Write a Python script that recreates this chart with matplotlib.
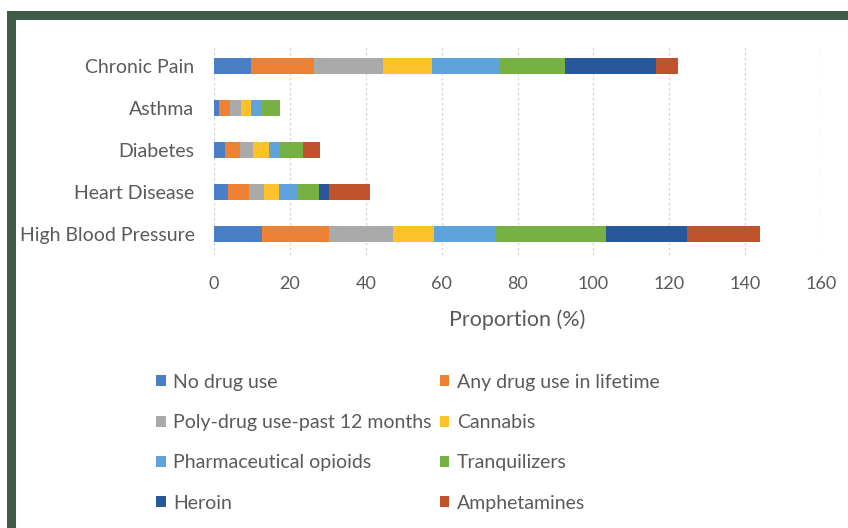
import matplotlib
matplotlib.use("Agg")
import matplotlib.pyplot as plt
from matplotlib.patches import Rectangle, Patch
import numpy as np

categories = ["Chronic Pain", "Asthma", "Diabetes", "Heart Disease", "High Blood Pressure"]
series_names = ["No drug use", "Any drug use in lifetime", "Poly-drug use-past 12 months",
                "Cannabis", "Pharmaceutical opioids", "Tranquilizers", "Heroin", "Amphetamines"]
no_drug_use   = [9.7, 1.4, 2.9, 3.6, 12.6]
any_drug_use  = [16.7, 2.8, 4.0, 5.7, 17.8]
poly_drug_use = [18.2, 2.8, 3.5, 3.9, 16.8]
cannabis      = [12.8, 2.7, 4.1, 4.0, 10.9]
pharm_opioids = [17.9, 2.7, 2.9, 4.9, 16.3]
tranquilizers = [17.3, 5.0, 6.0, 5.6, 29.0]
heroin        = [23.8, 0.0, 0.0, 2.7, 21.2]
amphetamines  = [5.8, 0.0, 4.6, 10.8, 19.4]
xticks = [0, 20, 40, 60, 80, 100, 120, 140, 160]

series = [no_drug_use, any_drug_use, poly_drug_use, cannabis,
          pharm_opioids, tranquilizers, heroin, amphetamines]
colors = ["#4a7fc6", "#ee8234", "#aaaaaa", "#fdc12a", "#5fa3dc", "#78b143", "#28589a", "#c0532b"]

plt.rcParams['font.family'] = ['Lato', 'DejaVu Sans']
textcol = "#5a5a5a"

fig = plt.figure(figsize=(8.48, 5.28), dpi=100)
fig.patch.set_facecolor("white")

# green frame
W, H = 848, 528
fig.add_artist(Rectangle((7 / W, 1 - 20 / H), 1 - 7 / W, 9 / H, transform=fig.transFigure,
                         facecolor="#3e5c48", edgecolor="none"))
fig.add_artist(Rectangle((7 / W, 0), 9 / W, 1 - 11 / H, transform=fig.transFigure,
                         facecolor="#3e5c48", edgecolor="none"))

ax = fig.add_axes([214 / W, 1 - 255 / H, (821 - 214) / W, (255 - 45) / H])
y = np.arange(len(categories))
left = np.zeros(len(categories))
for vals, c, name in zip(series, colors, series_names):
    v = np.array(vals)
    ax.barh(y, v, left=left, height=0.36, color=c, label=name, zorder=3)
    left += v

ax.set_ylim(len(categories) - 0.5, -0.5)
ax.set_xlim(0, 160)
ax.set_xticks(xticks)
ax.set_yticks(y)
ax.set_yticklabels(categories)
ax.grid(axis="x", color="#d4d4d4", linestyle=(0, (2, 2)), linewidth=0.9, zorder=0)
for s in ax.spines.values():
    s.set_visible(False)
ax.tick_params(axis="both", length=0, colors=textcol)
ax.tick_params(axis="x", pad=15, labelsize=13)
ax.tick_params(axis="y", pad=14, labelsize=14)
ax.set_xlabel("Proportion (%)", color=textcol, fontsize=15.5, labelpad=13)

handles = [Patch(facecolor=c, edgecolor="none") for c in colors]
order = [0, 2, 4, 6, 1, 3, 5, 7]
leg = fig.legend([handles[i] for i in order], [series_names[i] for i in order],
                 ncol=2, loc="upper left", bbox_to_anchor=(148 / W, 1 - 366 / H),
                 frameon=False, fontsize=14, labelcolor=textcol,
                 handlelength=0.5, handleheight=0.5, handletextpad=0.4,
                 labelspacing=1.2, columnspacing=0.4, borderaxespad=0)

fig.savefig("out.png", dpi=100, facecolor="white")
